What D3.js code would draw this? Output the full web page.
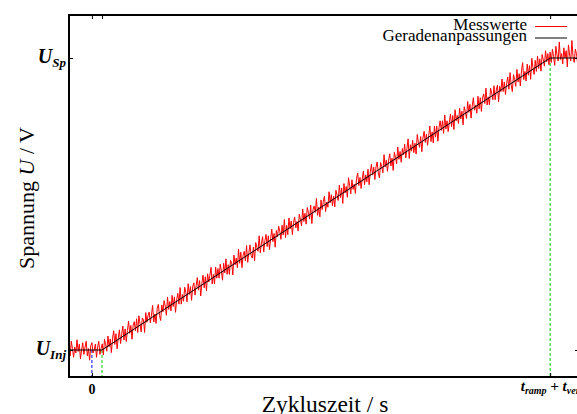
<!DOCTYPE html>
<html>
<head>
<meta charset="utf-8">
<script src="https://cdn.jsdelivr.net/npm/d3@7"></script>
<style>
  body { margin: 0; background: #fff; }
  text { font-family: "Liberation Serif", "DejaVu Serif", serif; }
</style>
</head>
<body>
<div id="plot"></div>
<script>
// measured signal, sampled every dt starting at t0 (t normalised: 0 = start, 1 = t_ramp + t_ver)
const t0 = -0.05;
const dt = 0.0025;
const messwerte = [
  0.015, -0.020, 0.030, 0.005, -0.025, 0.010, -0.010, 0.035, -0.005, 0.020,
  -0.030, 0.000, 0.025, -0.015, 0.010, 0.030, -0.020, 0.005, -0.035, 0.015,
  0.025, -0.010, 0.000, 0.020, -0.025, 0.010, 0.030, -0.015, 0.005, 0.021,
  -0.017, 0.036, 0.018, -0.004, 0.048, 0.011, 0.038, -0.009, 0.038, 0.066,
  0.019, 0.056, 0.004, 0.041, 0.069, 0.022, 0.054, 0.082, 0.034, 0.072,
  0.029, 0.067, 0.099, 0.057, 0.084, 0.037, 0.085, 0.097, 0.065, 0.107,
  0.060, 0.117, 0.090, 0.062, 0.110, 0.103, 0.060, 0.128, 0.095, 0.118,
  0.130, 0.093, 0.120, 0.153, 0.096, 0.123, 0.091, 0.143, 0.156, 0.118,
  0.101, 0.154, 0.131, 0.169, 0.151, 0.119, 0.181, 0.139, 0.166, 0.134,
  0.187, 0.149, 0.182, 0.129, 0.172, 0.194, 0.157, 0.214, 0.157, 0.190,
  0.167, 0.215, 0.197, 0.165, 0.227, 0.190, 0.217, 0.170, 0.218, 0.230,
  0.188, 0.220, 0.248, 0.205, 0.238, 0.185, 0.228, 0.256, 0.213, 0.251,
  0.203, 0.261, 0.233, 0.256, 0.283, 0.226, 0.259, 0.226, 0.284, 0.246,
  0.279, 0.246, 0.294, 0.271, 0.239, 0.297, 0.264, 0.312, 0.259, 0.292,
  0.259, 0.307, 0.299, 0.257, 0.325, 0.292, 0.315, 0.282, 0.345, 0.297,
  0.335, 0.282, 0.325, 0.338, 0.305, 0.358, 0.300, 0.333, 0.360, 0.323,
  0.315, 0.353, 0.306, 0.368, 0.351, 0.338, 0.391, 0.333, 0.366, 0.388,
  0.336, 0.374, 0.396, 0.354, 0.391, 0.344, 0.381, 0.414, 0.371, 0.399,
  0.352, 0.409, 0.387, 0.424, 0.407, 0.379, 0.427, 0.394, 0.447, 0.385,
  0.427, 0.395, 0.452, 0.415, 0.442, 0.395, 0.437, 0.455, 0.418, 0.440,
  0.408, 0.465, 0.448, 0.425, 0.483, 0.440, 0.468, 0.431, 0.488, 0.471,
  0.448, 0.496, 0.433, 0.481, 0.493, 0.471, 0.519, 0.461, 0.489, 0.456,
  0.514, 0.481, 0.509, 0.527, 0.474, 0.507, 0.489, 0.542, 0.504, 0.532,
  0.494, 0.527, 0.490, 0.547, 0.530, 0.512, 0.565, 0.522, 0.555, 0.502,
  0.570, 0.538, 0.560, 0.523, 0.590, 0.563, 0.535, 0.583, 0.550, 0.568,
  0.536, 0.588, 0.606, 0.563, 0.591, 0.553, 0.586, 0.613, 0.566, 0.599,
  0.576, 0.619, 0.566, 0.609, 0.636, 0.599, 0.626, 0.584, 0.627, 0.644,
  0.607, 0.589, 0.642, 0.629, 0.607, 0.669, 0.627, 0.650, 0.612, 0.650,
  0.672, 0.630, 0.657, 0.615, 0.677, 0.660, 0.638, 0.695, 0.653, 0.680,
  0.643, 0.690, 0.668, 0.705, 0.658, 0.690, 0.723, 0.656, 0.703, 0.681,
  0.718, 0.676, 0.708, 0.671, 0.738, 0.711, 0.694, 0.731, 0.679, 0.726,
  0.749, 0.711, 0.739, 0.701, 0.734, 0.767, 0.714, 0.747, 0.709, 0.767,
  0.729, 0.767, 0.715, 0.762, 0.785, 0.752, 0.785, 0.742, 0.805, 0.757,
  0.785, 0.748, 0.780, 0.808, 0.765, 0.803, 0.755, 0.823, 0.785, 0.803,
  0.776, 0.828, 0.791, 0.818, 0.771, 0.833, 0.816, 0.793, 0.851, 0.814,
  0.841, 0.794, 0.836, 0.864, 0.821, 0.839, 0.811, 0.869, 0.826, 0.864,
  0.817, 0.864, 0.877, 0.844, 0.897, 0.839, 0.867, 0.840, 0.897, 0.880,
  0.857, 0.905, 0.857, 0.890, 0.907, 0.850, 0.903, 0.885, 0.928, 0.885,
  0.918, 0.875, 0.913, 0.935, 0.893, 0.950, 0.908, 0.885, 0.943, 0.926,
  0.903, 0.961, 0.918, 0.946, 0.904, 0.956, 0.984, 0.926, 0.954, 0.921,
  0.979, 0.941, 0.974, 0.927, 0.999, 0.967, 0.944, 0.992, 0.954, 1.007,
  0.964, 0.997, 0.955, 1.012, 0.995, 0.972, 1.025, 0.987, 1.015, 0.977,
  1.020, 0.985, 1.030, 1.005, 0.975, 1.040, 1.010, 0.990, 1.055, 0.995,
  1.015, 0.980, 1.035, 1.000, 1.025, 0.970, 1.045, 1.010, 0.990, 1.060,
  1.005, 0.985, 1.030, 1.015, 0.980, 1.040, 1.000
];

// fitted straight lines (Geradenanpassungen)
const fitT = [-0.05, 0.022, 1.0, 1.065];
const fitU = [0, 0, 1, 1];

// marker positions: t, U where the dashed line starts, colour
const markT = [0, 0.022, 1.0];
const markU = [0, 0, 1];
const markColor = ["#0000ff", "#00cc00", "#00cc00"];

const xTicks = [0, 1];
const xTickTop = [0, 0.022, 1];
const yTicks = [0, 1];

const w = 577;
const h = 414;
const margin = { top: 15, right: -2, bottom: 37, left: 69 };
const innerWidth = w - margin.left - margin.right;
const innerHeight = h - margin.top - margin.bottom;

const svg = d3.select("div#plot")
    .append("svg")
    .attr("width", w)
    .attr("height", h);

const xScale = d3.scaleLinear().domain([-0.05, 1.063]).range([0, innerWidth]);
const yScale = d3.scaleLinear().domain([-0.0925, 1.1473]).range([innerHeight, 0]);

const g = svg.append("g").attr("transform", `translate(${margin.left}, ${margin.top})`);

g.append("clipPath").attr("id", "clip")
  .append("rect").attr("width", innerWidth).attr("height", innerHeight);

const plot = g.append("g").attr("clip-path", "url(#clip)");

// dashed markers
markT.forEach((t, i) => {
  plot.append("line")
    .attr("x1", xScale(t)).attr("x2", xScale(t))
    .attr("y1", yScale(markU[i])).attr("y2", innerHeight)
    .attr("stroke", markColor[i])
    .attr("stroke-width", 1)
    .attr("stroke-dasharray", "3,2");
});

const data = messwerte.map((u, i) => [t0 + i * dt, u]);

const line = d3.line().x(d => xScale(d[0])).y(d => yScale(d[1]));

plot.append("path")
    .datum(data)
    .attr("d", line)
    .attr("fill", "none")
    .attr("stroke", "#ff0000")
    .attr("stroke-width", 1);

plot.append("path")
    .datum(fitT.map((t, i) => [t, fitU[i]]))
    .attr("d", line)
    .attr("fill", "none")
    .attr("stroke", "#000")
    .attr("stroke-width", 1);

// axes (gnuplot style: inward ticks on all sides)
const xAxis = d3.axisBottom(xScale).tickValues(xTicks).tickSize(-4).tickFormat("");
const xAxisTop = d3.axisTop(xScale).tickValues(xTickTop).tickSize(-4).tickFormat("");
const yAxis = d3.axisLeft(yScale).tickValues(yTicks).tickSize(-4).tickFormat("");
const yAxisRight = d3.axisRight(yScale).tickValues(yTicks).tickSize(-4).tickFormat("");

g.append("g").attr("class", "xAxis").attr("transform", `translate(0, ${innerHeight})`).call(xAxis);
g.append("g").attr("class", "xAxisTop").call(xAxisTop);
g.append("g").attr("class", "yAxis").call(yAxis);
g.append("g").attr("class", "yAxisRight").attr("transform", `translate(${innerWidth}, 0)`).call(yAxisRight);

g.selectAll(".domain").remove();
g.selectAll(".tick line").attr("stroke", "#000").attr("stroke-width", 1);

g.append("rect")
    .attr("width", innerWidth).attr("height", innerHeight)
    .attr("fill", "none").attr("stroke", "#000").attr("stroke-width", 2);

// tick labels
g.append("text")
    .attr("x", xScale(0)).attr("y", innerHeight + 17)
    .attr("text-anchor", "middle")
    .attr("font-size", 14).attr("font-weight", "bold")
    .text("0");

const xt = g.append("text")
    .attr("x", xScale(1)).attr("y", innerHeight + 14)
    .attr("text-anchor", "middle")
    .attr("font-size", 15).attr("font-weight", "bold").attr("font-style", "italic");
xt.append("tspan").text("t");
xt.append("tspan").attr("font-size", 10).attr("dy", 3).text("ramp");
xt.append("tspan").attr("dy", -3).text(" + t");
xt.append("tspan").attr("font-size", 10).attr("dy", 3).text("ver");

const yLabels = [["U", "Sp"], ["U", "Inj"]];
yTicks.forEach((v, i) => {
  const lab = yLabels[1 - i];
  const t = g.append("text")
      .attr("x", -3).attr("y", yScale(v) + 5)
      .attr("text-anchor", "end")
      .attr("font-size", 20).attr("font-weight", "bold").attr("font-style", "italic");
  t.append("tspan").text(lab[0]);
  t.append("tspan").attr("font-size", 13).attr("dy", 4).text(lab[1]);
});

// axis titles
svg.append("text")
    .attr("x", 325).attr("y", 412)
    .attr("text-anchor", "middle")
    .attr("font-size", 23.5)
    .text("Zykluszeit / s");

const yt = svg.append("text")
    .attr("transform", "translate(34, 198) rotate(-90)")
    .attr("text-anchor", "middle")
    .attr("font-size", 22);
yt.append("tspan").text("Spannung ");
yt.append("tspan").attr("font-style", "italic").text("U");
yt.append("tspan").text(" / V");

// legend
const legend = [["Messwerte", "#ff0000"], ["Geradenanpassungen", "#000"]];
legend.forEach((d, i) => {
  const y = 26.5 + i * 11.5;
  svg.append("text")
      .attr("x", 527).attr("y", y + 3)
      .attr("text-anchor", "end")
      .attr("font-size", 17)
      .text(d[0]);
  svg.append("line")
      .attr("x1", 535).attr("x2", 567)
      .attr("y1", y).attr("y2", y)
      .attr("stroke", d[1]).attr("stroke-width", 1);
});
</script>
</body>
</html>
